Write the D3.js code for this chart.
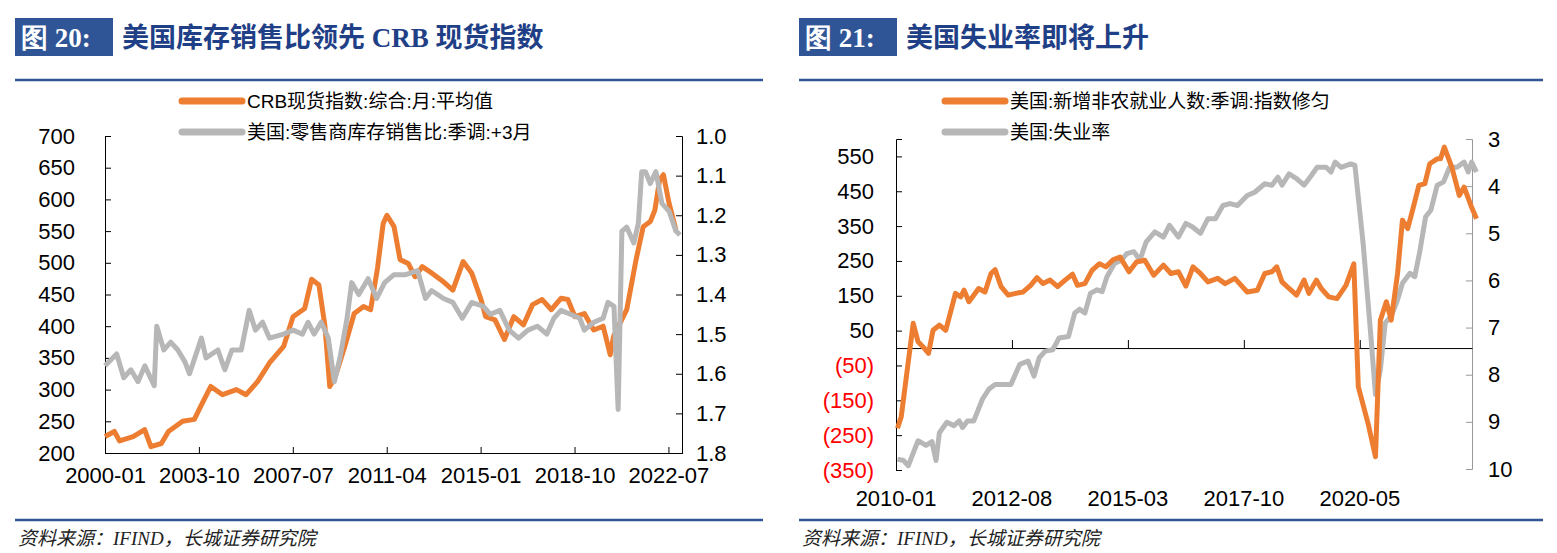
<!DOCTYPE html>
<html><head><meta charset="utf-8">
<script src="https://cdn.jsdelivr.net/npm/d3@7/dist/d3.min.js"></script>
<style>body{margin:0;background:#fff}svg{display:block}</style></head>
<body><svg id="c" width="1557" height="553"></svg>
<script>
// ---------- Chart 20 data (months since 2000-01) ----------
const crbMonths=[0,4.5,7,13.5,19,22,27,30.4,37.2,42.8,46.2,50.7,56.3,63,67.6,73.2,78.8,85.6,90.1,95.7,99,102.5,105.4,107.7,110.4,114.9,119.4,123.9,127.3,130.6,133.3,135.1,138.5,141.4,145.3,148.6,152,156.5,162.2,166.7,171.6,175.7,180.2,182.4,186.9,191.4,195.9,200.5,204.9,209.5,213.9,218.5,221.8,225.2,229.7,234.2,238.7,242.1,243.7,250,254.5,257.9,261.3,263.5,265.8,267.6,270.3,273.6];
const crbValues=[226,234,219,226,237,210,215,234,250,253,276,305,292,300,292,313,342,368,415,428,474,465,400,305,321,368,420,431,426,492,562,575,557,505,499,478,494,484,470,457,502,484,442,415,410,379,415,402,434,442,426,444,442,415,420,394,400,355,384,426,505,557,565,583,631,639,594,552];
const isrMonths=[0,5.6,9,12.4,15.8,19.1,23.6,24.8,28.2,31.5,34.9,38.3,40.5,46.2,48.4,54.1,57.4,60.8,65.3,69.1,72.1,75.5,78.8,85.6,90.1,94.6,97.3,100.2,103.6,107,109.9,112.6,116,118.2,121.6,126.1,130.2,134,138.5,144.1,149.8,153.6,156.5,162.2,166.7,171.2,175.7,181.3,184.7,189.2,193.7,198.2,202.7,207.2,211.7,215.1,218.5,223,227.5,229.7,234.2,238.7,241,243.9,245.9,247.7,250,253.4,255.6,257.2,259,261.3,264,266.9,270.3,273.6,275.5];
const isrValues=[1.58,1.55,1.61,1.59,1.62,1.58,1.63,1.48,1.54,1.52,1.54,1.57,1.60,1.51,1.56,1.54,1.59,1.54,1.54,1.44,1.49,1.47,1.51,1.50,1.49,1.50,1.47,1.50,1.47,1.51,1.62,1.56,1.46,1.37,1.40,1.36,1.41,1.37,1.35,1.35,1.34,1.41,1.39,1.41,1.42,1.46,1.42,1.43,1.45,1.44,1.49,1.51,1.49,1.48,1.50,1.46,1.44,1.45,1.46,1.49,1.47,1.46,1.42,1.43,1.69,1.24,1.23,1.27,1.22,1.09,1.09,1.12,1.09,1.17,1.19,1.24,1.25];
const c20TickMonths=[0,45,90,135,180,225,270];
const c20TickLabels=["2000-01","2003-10","2007-07","2011-04","2015-01","2018-10","2022-07"];
const c20LeftTicks=[200,250,300,350,400,450,500,550,600,650,700];
const c20RightTicks=[1.0,1.1,1.2,1.3,1.4,1.5,1.6,1.7,1.8];

// ---------- Chart 21 data (months since 2010-01) ----------
const nfpMonths=[0.4,1.4,3,4.6,5.9,7.2,8.7,9.9,11.6,13.3,15.9,17.3,18.2,19.5,22.1,23.8,25.4,26.5,28.1,30,32,34,36,37.7,39.3,41.2,43.2,45.2,47.2,48.5,50.5,52.4,54.4,56.1,58.1,59.9,62.3,64.3,66.5,68.9,71.5,73.5,75.5,77.5,79.4,81.4,83.4,86,88,90.6,93.9,96.6,98.6,100.5,101.8,103.2,105.1,107.1,109.1,110.4,112.4,113.7,115.7,117.9,120.3,122.4,123.6,126.2,128.2,129.5,131.1,132.4,134.1,135.4,136.8,138.1,139.8,141.4,142.7,144.7,145.6,146.6,148.6,150.6,151.9,153.9,155.2];
const nfpValues=[-230,-197,-63,71,18,4,-15,51,66,51,157,147,166,133,171,161,214,225,176,152,157,161,180,202,185,195,176,195,212,180,185,223,242,233,254,261,219,247,252,209,238,214,219,178,233,214,190,200,185,200,161,166,214,219,233,190,171,152,195,157,195,171,147,142,180,242,-111,-216,-312,80,133,80,214,367,343,395,467,472,529,543,543,577,519,438,462,404,371];
const unMonths=[0.4,2,3.3,5.9,8,9.6,10.7,11.6,13.6,15.5,16.9,17.8,19.1,20.8,23.1,24.8,26.5,30.7,33.1,35.3,36.9,38.3,39.9,41.9,43.6,46.1,47.8,49.1,50.5,52,53.8,55.1,56.4,58.4,60.3,61.7,63.6,65.2,66.9,69.2,71.5,73.1,75.5,77.5,79.2,81.4,83.4,85.4,87.4,89.3,91.3,93.9,95.9,98.6,100.5,102.1,103.2,105.1,107.1,109.1,111.1,112.6,115,116.3,117.4,119,121.6,122.7,124.9,126.9,128.2,129.5,130.8,132.4,134.1,135.4,137.4,138.7,140.1,141.6,143,144.7,146.4,148,150,151.9,153,153.9,155.2];
const unValues=[9.79,9.82,9.93,9.40,9.5,9.42,9.82,9.23,9.01,9.08,8.98,9.12,8.98,8.98,8.52,8.31,8.21,8.21,7.78,7.71,8.03,7.64,7.50,7.47,7.22,7.19,6.69,6.61,6.69,6.27,6.20,6.24,5.92,5.64,5.57,5.43,5.39,5.57,5.18,4.97,5.08,4.83,5.08,4.79,4.86,5.0,4.69,4.69,4.41,4.37,4.41,4.20,4.13,3.95,3.98,3.81,3.98,3.74,3.84,3.98,3.77,3.6,3.6,3.7,3.49,3.6,3.53,3.56,5.22,7.12,8.42,7.89,6.90,6.76,6.41,6.06,5.85,5.92,5.36,4.65,4.51,3.98,3.91,3.6,3.6,3.49,3.7,3.49,3.7];
const c21TickMonths=[0,31,62,93,124];
const c21TickLabels=["2010-01","2012-08","2015-03","2017-10","2020-05"];
const c21LeftTicks=[-350,-250,-150,-50,50,150,250,350,450,550];
const c21RightTicks=[3,4,5,6,7,8,9,10];

const ORANGE="#ED7D31", GRAY="#B7B7B7", BLUE="#2F5597", NAVY="#1F3F86";
const FONT="'Liberation Sans', Arial, sans-serif";
const svg=d3.select("#c");

function header(x0,x1,num,title){
  svg.append("rect").attr("x",x0).attr("y",18).attr("width",98).attr("height",38).attr("fill",BLUE);
  svg.append("text").attr("x",x0+6).attr("y",47).attr("fill","#fff").attr("font-family","'Liberation Serif',serif").attr("font-weight","bold").attr("font-size",27).text(num);
  svg.append("text").attr("x",x0+107).attr("y",47).attr("fill",NAVY).attr("font-family","'Liberation Serif','Noto Sans CJK SC',serif").attr("font-weight","bold").attr("font-size",27).text(title);
  svg.append("line").attr("x1",x0).attr("x2",x1).attr("y1",80).attr("y2",80).attr("stroke",BLUE).attr("stroke-width",2.5);
  svg.append("line").attr("x1",x0).attr("x2",x1).attr("y1",520).attr("y2",520).attr("stroke",BLUE).attr("stroke-width",2.5);
  svg.append("text").attr("x",x0+3).attr("y",545).attr("font-family","'Liberation Serif','Noto Sans CJK SC',serif").attr("font-style","italic").attr("font-size",19).attr("fill","#222").text("资料来源：IFIND，长城证券研究院");
}
function legend(x,y,items){
  items.forEach((it,i)=>{
    svg.append("line").attr("x1",x).attr("x2",x+60).attr("y1",y+i*31).attr("y2",y+i*31).attr("stroke",it.c).attr("stroke-width",7).attr("stroke-linecap","round");
    svg.append("text").attr("x",x+65).attr("y",y+i*31+7).attr("font-family",FONT+",'Noto Sans CJK SC'").attr("font-size",19).text(it.t);
  });
}
function series(g,xs,ys,X,Y,color){
  const pts=d3.zip(xs,ys);
  g.append("path").datum(pts).attr("fill","none").attr("stroke",color).attr("stroke-width",5).attr("stroke-linejoin","round")
   .attr("d",d3.line().x(d=>X(d[0])).y(d=>Y(d[1])));
}
function styleAxis(a,color){
  a.select(".domain").attr("stroke",color);
  a.selectAll(".tick line").attr("stroke",color);
  a.selectAll("text").attr("font-family",FONT).attr("font-size",22).attr("fill","#000");
}

// ----- Chart 20 -----
header(15,763,"图 20:","美国库存销售比领先 CRB 现货指数");
legend(182,101,[{c:ORANGE,t:"CRB现货指数:综合:月:平均值"},{c:GRAY,t:"美国:零售商库存销售比:季调:+3月"}]);
{
  const X=d3.scaleLinear().domain([0,276.5]).range([105,682]);
  const YL=d3.scaleLinear().domain([200,700]).range([453,136]);
  const YR=d3.scaleLinear().domain([1.8,1.0]).range([453,136]);
  const g=svg.append("g");
  const ax=g.append("g").attr("transform","translate(0,453)").call(d3.axisBottom(X).tickValues(c20TickMonths).tickFormat((d,i)=>c20TickLabels[i]).tickSize(-6).tickPadding(14));
  styleAxis(ax,"#000");
  const al=g.append("g").attr("transform","translate(105,0)").call(d3.axisLeft(YL).tickValues(c20LeftTicks).tickSize(-6).tickPadding(30).tickSizeOuter(-6));
  styleAxis(al,"#000");
  const ar=g.append("g").attr("transform","translate(682,0)").call(d3.axisRight(YR).tickValues(c20RightTicks).tickFormat(d3.format(".1f")).tickSize(-6).tickPadding(14).tickSizeOuter(-6));
  styleAxis(ar,"#000");
  series(g,crbMonths,crbValues,X,YL,ORANGE);
  series(g,isrMonths,isrValues,X,YR,GRAY);
}

// ----- Chart 21 -----
header(799,1543,"图 21:","美国失业率即将上升");
legend(945,101,[{c:ORANGE,t:"美国:新增非农就业人数:季调:指数修匀"},{c:GRAY,t:"美国:失业率"}]);
{
  const X=d3.scaleLinear().domain([0,154]).range([896,1472]);
  const YL=d3.scaleLinear().domain([-350,600]).range([470,139]);
  const YR=d3.scaleLinear().domain([10,3]).range([469,139]);
  const g=svg.append("g");
  const al=g.append("g").attr("transform","translate(896,0)").call(d3.axisLeft(YL).tickValues(c21LeftTicks).tickFormat(d=>d<0?"("+(-d)+")":d).tickSize(-6).tickPadding(22).tickSizeOuter(-6));
  styleAxis(al,"#000");
  al.selectAll(".tick text").attr("fill",d=>d<0?"#FF0000":"#000");
  const ar=g.append("g").attr("transform","translate(1472,0)").call(d3.axisRight(YR).tickValues(c21RightTicks).tickFormat(d3.format("d")).tickSize(-6).tickPadding(16).tickSizeOuter(-6));
  styleAxis(ar,"#999");
  const ax=g.append("g").attr("transform","translate(0,"+YL(0)+")").call(d3.axisBottom(X).tickValues(c21TickMonths).tickFormat(()=>"" ).tickSize(-8).tickSizeOuter(0));
  styleAxis(ax,"#000");
  g.selectAll(".xl").data(c21TickMonths).enter().append("text").attr("x",d=>X(d)).attr("y",506).attr("text-anchor","middle")
    .attr("font-family",FONT).attr("font-size",22).text((d,i)=>c21TickLabels[i]);
  series(g,unMonths,unValues,X,YR,GRAY);
  series(g,nfpMonths,nfpValues,X,YL,ORANGE);
}
</script></body></html>
